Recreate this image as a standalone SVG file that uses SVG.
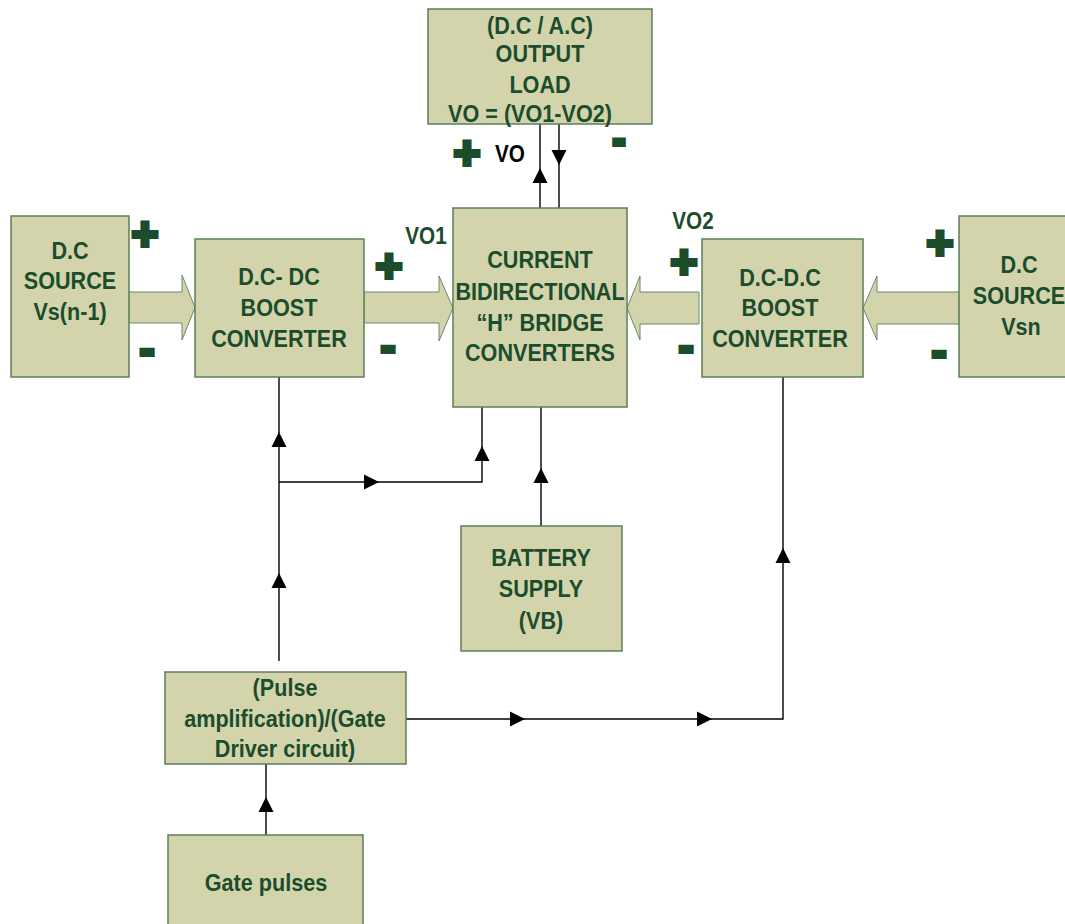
<svg xmlns="http://www.w3.org/2000/svg" width="1065" height="924" viewBox="0 0 1065 924">
<style>
.box{fill:#d3d4ac;stroke:#5b7f5b;stroke-width:1.5}
.barrow{fill:#d3d4ac;stroke:#6b8a6b;stroke-width:1}
.t{font-family:"Liberation Sans",Arial,sans-serif;font-weight:bold;font-size:24px;fill:#1b4d2d;text-anchor:middle}
.plus{font-family:"Liberation Sans",Arial,sans-serif;font-weight:bold;font-size:46px;fill:#1b4d2d;stroke:#1b4d2d;stroke-width:4;text-anchor:middle}
.minus{font-family:"Liberation Sans",Arial,sans-serif;font-weight:bold;font-size:44px;fill:#1b4d2d;stroke:#1b4d2d;stroke-width:4;text-anchor:middle}
.minus-s{font-family:"Liberation Sans",Arial,sans-serif;font-weight:bold;font-size:30px;fill:#1b4d2d;stroke:#1b4d2d;stroke-width:6;text-anchor:middle}
.lbl{font-family:"Liberation Sans",Arial,sans-serif;font-weight:bold;font-size:23px;text-anchor:middle}
.ln{fill:none;stroke:#000;stroke-width:1.4}
</style>
<defs>
<path id="ah" d="M0,0 L7.5,15 L-7.5,15 Z" fill="#000"/>
</defs>
<rect width="1065" height="924" fill="#fff"/>

<g id="connectors">
<path class="ln" d="M540,124 V208"/>
<path class="ln" d="M559,124 V208"/>
<path class="ln" d="M279,377 V661"/>
<path class="ln" d="M279,482 H482 V407"/>
<path class="ln" d="M541,407 V526"/>
<path class="ln" d="M406,719 H783 V377"/>
<path class="ln" d="M266,764 V835"/>
<use href="#ah" transform="translate(540,168)"/>
<use href="#ah" transform="translate(559,165) rotate(180)"/>
<use href="#ah" transform="translate(279,432)"/>
<use href="#ah" transform="translate(279,573)"/>
<use href="#ah" transform="translate(379,482) rotate(90)"/>
<use href="#ah" transform="translate(482,446)"/>
<use href="#ah" transform="translate(541,468)"/>
<use href="#ah" transform="translate(525,719) rotate(90)"/>
<use href="#ah" transform="translate(712,719) rotate(90)"/>
<use href="#ah" transform="translate(783,548)"/>
<use href="#ah" transform="translate(266,797)"/>
<polygon class="barrow" points="129,292 182,292 182,275 195,307.5 182,340 182,323 129,323"/>
<polygon class="barrow" points="364,292 439,292 439,276 453,308 439,341 439,323 364,323"/>
<polygon class="barrow" points="699,292 640,292 640,276 627,308 640,340 640,324 699,324"/>
<polygon class="barrow" points="959,292 877,292 877,276 863,308 877,340 877,324 959,324"/>
</g>

<g id="output-load">
<rect class="box" x="428" y="9" width="224" height="115"/>
<text class="t" transform="translate(540,34) scale(0.9,1)">(D.C / A.C)</text>
<text class="t" transform="translate(540,62) scale(0.9,1)">OUTPUT</text>
<text class="t" transform="translate(540,93) scale(0.9,1)">LOAD</text>
<text class="t" transform="translate(530,122) scale(0.9,1)">VO = (VO1-VO2)</text>
</g>

<g id="dc-source-left">
<rect class="box" x="11" y="216" width="118" height="161"/>
<text class="t" transform="translate(70,259) scale(0.9,1)">D.C</text>
<text class="t" transform="translate(70,289) scale(0.9,1)">SOURCE</text>
<text class="t" transform="translate(70,320) scale(0.9,1)">Vs(n-1)</text>
</g>

<g id="boost-left">
<rect class="box" x="195" y="239" width="169" height="138"/>
<text class="t" transform="translate(279,285) scale(0.9,1)">D.C- DC</text>
<text class="t" transform="translate(279,316) scale(0.9,1)">BOOST</text>
<text class="t" transform="translate(279,347) scale(0.9,1)">CONVERTER</text>
</g>

<g id="h-bridge">
<rect class="box" x="453" y="208" width="174" height="199"/>
<text class="t" transform="translate(540,268) scale(0.9,1)">CURRENT</text>
<text class="t" transform="translate(540,300) scale(0.9,1)">BIDIRECTIONAL</text>
<text class="t" transform="translate(540,331) scale(0.9,1)">“H” BRIDGE</text>
<text class="t" transform="translate(540,361) scale(0.9,1)">CONVERTERS</text>
</g>

<g id="boost-right">
<rect class="box" x="702" y="239" width="161" height="138"/>
<text class="t" transform="translate(780,286) scale(0.9,1)">D.C-D.C</text>
<text class="t" transform="translate(780,316) scale(0.9,1)">BOOST</text>
<text class="t" transform="translate(780,347) scale(0.9,1)">CONVERTER</text>
</g>

<g id="dc-source-right">
<rect class="box" x="959" y="216" width="120" height="161"/>
<text class="t" transform="translate(1019,273) scale(0.9,1)">D.C</text>
<text class="t" transform="translate(1019,304) scale(0.9,1)">SOURCE</text>
<text class="t" transform="translate(1021,335) scale(0.9,1)">Vsn</text>
</g>

<g id="battery">
<rect class="box" x="461" y="526" width="161" height="125"/>
<text class="t" transform="translate(541,566) scale(0.9,1)">BATTERY</text>
<text class="t" transform="translate(541,597) scale(0.9,1)">SUPPLY</text>
<text class="t" transform="translate(541,629) scale(0.9,1)">(VB)</text>
</g>

<g id="gate-driver">
<rect class="box" x="165" y="672" width="241" height="92"/>
<text class="t" transform="translate(285,696) scale(0.9,1)">(Pulse</text>
<text class="t" transform="translate(285,727) scale(0.9,1)">amplification)/(Gate</text>
<text class="t" transform="translate(285,757) scale(0.9,1)">Driver circuit)</text>
</g>

<g id="gate-pulses">
<rect class="box" x="168" y="835" width="195" height="95"/>
<text class="t" transform="translate(266,891) scale(0.9,1)">Gate pulses</text>
</g>

<g id="labels">
<text class="plus" x="145" y="250">+</text>
<text class="minus" x="147" y="364">-</text>
<text class="plus" x="389" y="282">+</text>
<text class="minus" x="388" y="361">-</text>
<text class="lbl" fill="#1b4d2d" transform="translate(426,244) scale(0.9,1)">VO1</text>
<text class="plus" x="467" y="169">+</text>
<text class="lbl" fill="#000" transform="translate(510,162) scale(0.9,1)">VO</text>
<text class="minus-s" x="619" y="150">-</text>
<text class="lbl" fill="#1b4d2d" transform="translate(693,229) scale(0.9,1)">VO2</text>
<text class="plus" x="684" y="278">+</text>
<text class="minus" x="686" y="361">-</text>
<text class="plus" x="940" y="259">+</text>
<text class="minus" x="939" y="366">-</text>
</g>
</svg>
